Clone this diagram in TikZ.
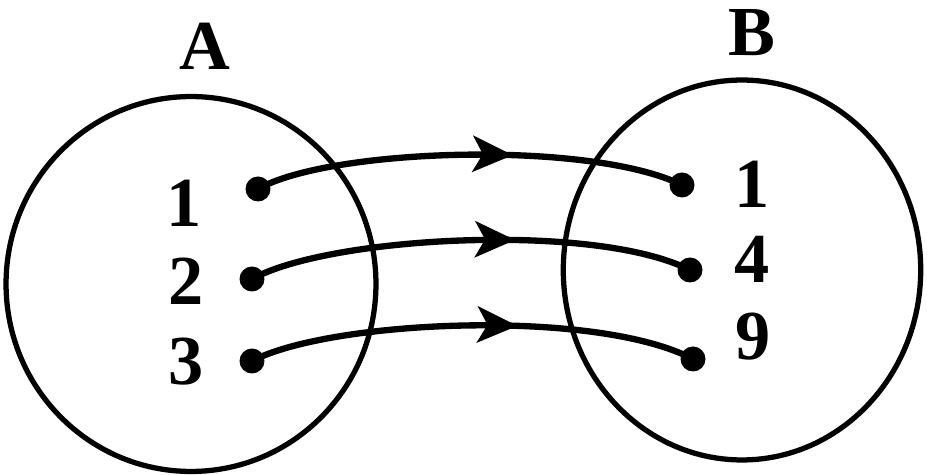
\documentclass[tikz,border=0pt]{standalone}
\usepackage{fontspec}
\setmainfont{Liberation Serif}
\usetikzlibrary{shapes.geometric,arrows.meta,decorations.markings}
\begin{document}
\begin{tikzpicture}[x=0.02cm,y=-0.02cm,
  setring/.style={draw,ellipse,line width=3pt,inner sep=0pt,outer sep=0pt},
  dotnode/.style={circle,fill=black,inner sep=0pt,minimum size=0.5cm},
  numlabel/.style={font=\bfseries\fontsize{40}{42}\selectfont,inner sep=0pt},
  mapline/.style={line width=3.6pt,postaction={decorate},
    decoration={markings,mark=at position 0.6 with {\arrow{Stealth[length=0.8cm,width=0.72cm,inset=0.2cm]}}}}]
\useasboundingbox (0,0) rectangle (927,475);
\node[setring,minimum width=7.4cm,minimum height=7.5cm] (SA) at (191,284) {};
\node[setring,minimum width=7.15cm,minimum height=7.6cm] (SB) at (742,270) {};
\node[numlabel] (labA) at (205,46) {A};
\node[numlabel] (labB) at (752,33) {B};
\node[dotnode] (a1) at (258,189) {};
\node[dotnode] (a2) at (252,279) {};
\node[dotnode] (a3) at (252,361) {};
\node[dotnode] (b1) at (682,185) {};
\node[dotnode] (b2) at (690,270) {};
\node[dotnode] (b3) at (693,359) {};
\node[numlabel] (ta1) at (184,203) {1};
\node[numlabel] (ta2) at (186,281) {2};
\node[numlabel] (ta3) at (186,362) {3};
\node[numlabel] (tb1) at (752,184) {1};
\node[numlabel] (tb2) at (752,259) {4};
\node[numlabel] (tb3) at (753,337) {9};
\draw[mapline] (a1.center) .. controls (330,148) and (590,140) .. (b1.center);
\draw[mapline] (a2.center) .. controls (330,236) and (595,222) .. (b2.center);
\draw[mapline] (a3.center) .. controls (330,320) and (595,308) .. (b3.center);
\end{tikzpicture}
\end{document}
